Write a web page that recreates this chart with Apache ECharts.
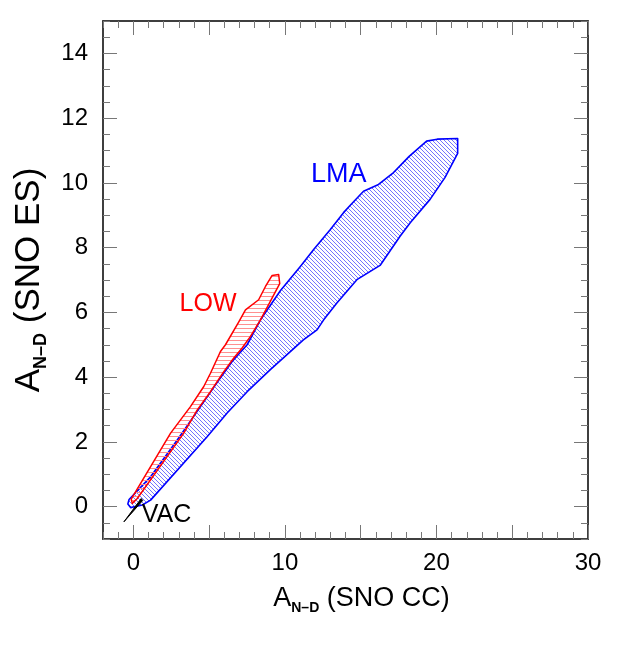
<!DOCTYPE html>
<html>
<head>
<meta charset="utf-8">
<script src="https://cdn.jsdelivr.net/npm/echarts@6/dist/echarts.min.js"></script>
<style>
html,body{margin:0;padding:0;background:#fff;}
#chart{width:623px;height:648px;}
</style>
</head>
<body>
<div id="chart"></div>
<script>
// LMA allowed region (blue), vertices in data coordinates
const lmaX = [-0.36, -0.28, 1.14, 2.90, 4.43, 5.42, 6.52, 7.51, 8.39, 9.70, 11.02, 11.90, 13.00, 13.87, 14.30, 15.19, 16.18, 17.17, 18.20, 19.35, 20.05, 21.40, 21.40, 20.57, 19.58, 18.27, 17.60, 16.28, 14.75, 13.43, 12.56, 12.12, 11.22, 10.36, 9.04, 7.51, 6.19, 4.87, 1.14, 0.59, -0.18];
const lmaY = [0.08, 0.22, 0.92, 2.06, 3.09, 3.76, 4.48, 5.00, 5.77, 6.67, 7.42, 7.94, 8.56, 9.08, 9.30, 9.74, 9.95, 10.32, 10.82, 11.29, 11.35, 11.37, 10.91, 10.17, 9.49, 8.77, 8.35, 7.45, 7.01, 6.29, 5.77, 5.46, 5.15, 4.79, 4.23, 3.55, 2.89, 2.16, 0.20, 0.05, -0.03];
// LOW allowed region (red)
const lowX = [9.16, 9.59, 9.66, 9.04, 8.39, 7.73, 7.18, 6.63, 5.97, 5.09, 4.22, 3.33, 0.26, -0.07, -0.14, 2.46, 3.77, 4.65, 5.09, 5.75, 6.08, 6.96, 7.40, 8.27, 8.72];
const lowY = [7.14, 7.17, 6.89, 6.34, 5.77, 5.26, 4.90, 4.59, 4.17, 3.55, 2.99, 2.27, 0.25, 0.10, 0.23, 2.27, 3.09, 3.71, 4.12, 4.79, 5.00, 5.71, 6.08, 6.39, 6.80];
// VAC region (black sliver)
const vacX = [-0.62, 0.52, 0.62];
const vacY = [-0.47, 0.25, 0.19];
// Region labels
const labelText = ['LMA', 'LOW', 'VAC'];
const labelX = [13.55, 4.93, 2.19];
const labelY = [10.26, 6.27, -0.26];
const labelColor = ['#0000ff', '#ff0000', '#000000'];
// Axis ticks
const xMajorTicks = [0, 5, 10, 15, 20, 25, 30];
const xTickLabels = [0, 10, 20, 30];
const yMajorTicks = [0, 2, 4, 6, 8, 10, 12, 14];
const yTickLabels = [0, 2, 4, 6, 8, 10, 12, 14];

function makeTile(size, drawFn) {
  const c = document.createElement('canvas');
  c.width = size; c.height = size;
  const g = c.getContext('2d');
  drawFn(g, size);
  return c;
}
const blueTile = makeTile(4, (g, s) => {
  g.fillStyle = '#7474ff';
  for (let i = 0; i < s; i++) g.fillRect(i, i, 1, 1);
});
const redTile = makeTile(4, (g, s) => {
  g.fillStyle = '#ff8f8f';
  g.fillRect(0, 0, s, 1);
});

const FONT = 'Liberation Sans';
const BOX = { show: true, onZero: false, lineStyle: { color: '#333', width: 1.5 } };
const TICKC = '#777';

function polySeries(xs, ys, fill, stroke, lw) {
  return {
    type: 'custom',
    xAxisIndex: 0, yAxisIndex: 0,
    silent: true,
    data: [[xs[0], ys[0]]],
    renderItem: function (params, api) {
      const pts = xs.map((x, i) => api.coord([x, ys[i]]));
      return {
        type: 'polygon',
        shape: { points: pts },
        style: { fill: fill, stroke: stroke, lineWidth: lw, lineJoin: 'round' }
      };
    }
  };
}

function xAx(pos, major) {
  const a = {
    type: 'value', position: pos, min: -2, max: 30,
    axisLine: BOX, splitLine: { show: false },
    axisTick: { show: true, inside: true, length: major ? 14 : 7, lineStyle: { color: TICKC, width: 1 } },
    axisLabel: { show: false }
  };
  if (major) {
    a.axisTick.customValues = xMajorTicks;
  } else {
    a.interval = 1;
  }
  return a;
}
function yAx(pos, major) {
  const a = {
    type: 'value', position: pos, min: -1, max: 15,
    axisLine: BOX, splitLine: { show: false },
    axisTick: { show: true, inside: true, length: major ? 14 : 7, lineStyle: { color: TICKC, width: 1 } },
    axisLabel: { show: false }
  };
  if (major) {
    a.axisTick.customValues = yMajorTicks;
  } else {
    a.interval = 0.5;
  }
  return a;
}

function richTitle(big, small, lh) {
  return {
    a: { fontSize: big, fontFamily: FONT, color: '#000', lineHeight: lh, verticalAlign: 'middle' },
    s: { fontSize: small, fontWeight: 'bold', fontFamily: FONT, color: '#000', lineHeight: lh, verticalAlign: 'bottom' },
    b: { fontSize: big, fontFamily: FONT, color: '#000', lineHeight: lh, verticalAlign: 'middle' }
  };
}

const xAxes = [xAx('bottom', false), xAx('bottom', true), xAx('top', false), xAx('top', true)];
xAxes[1].axisLabel = { show: true, customValues: xTickLabels, color: '#000', fontSize: 24, fontFamily: FONT, margin: 12 };
xAxes[1].name = '{a|A}{s|N–D}{b| (SNO CC)}';
xAxes[1].nameLocation = 'middle';
xAxes[1].nameGap = 44;
xAxes[1].nameTextStyle = { padding: [0, 0, 0, 32], rich: richTitle(27, 14, 32) };

const yAxes = [yAx('left', false), yAx('left', true), yAx('right', false), yAx('right', true)];
yAxes[1].axisLabel = { show: true, customValues: yTickLabels, color: '#000', fontSize: 24, fontFamily: FONT, margin: 15 };
yAxes[1].name = '{a|A}{s|N–D}{b| (SNO ES)}';
yAxes[1].nameLocation = 'middle';
yAxes[1].nameGap = 51;
yAxes[1].nameTextStyle = { rich: richTitle(35, 18, 42) };

const chart = echarts.init(document.getElementById('chart'), null, { renderer: 'canvas' });
chart.setOption({
  animation: false,
  backgroundColor: '#fff',
  grid: { left: 103, right: 35, top: 21, bottom: 109, containLabel: false, outerBoundsMode: 'none' },
  xAxis: xAxes,
  yAxis: yAxes,
  series: [
    polySeries(lmaX, lmaY, { image: blueTile, repeat: 'repeat' }, '#0000ff', 1.6),
    polySeries(lowX, lowY, { image: redTile, repeat: 'repeat' }, '#ff0000', 1.5),
    polySeries(vacX, vacY, '#000', '#000', 1),
    {
      type: 'custom', xAxisIndex: 0, yAxisIndex: 0, silent: true,
      data: labelText.map((t, i) => [labelX[i], labelY[i]]),
      renderItem: function (params, api) {
        const i = params.dataIndex;
        const p = api.coord([labelX[i], labelY[i]]);
        return {
          type: 'text', x: p[0], y: p[1],
          style: { text: labelText[i], fill: labelColor[i], fontSize: i === 0 ? 27 : 25, fontFamily: FONT, align: 'center', verticalAlign: 'middle' }
        };
      }
    }
  ]
});
</script>
</body>
</html>
